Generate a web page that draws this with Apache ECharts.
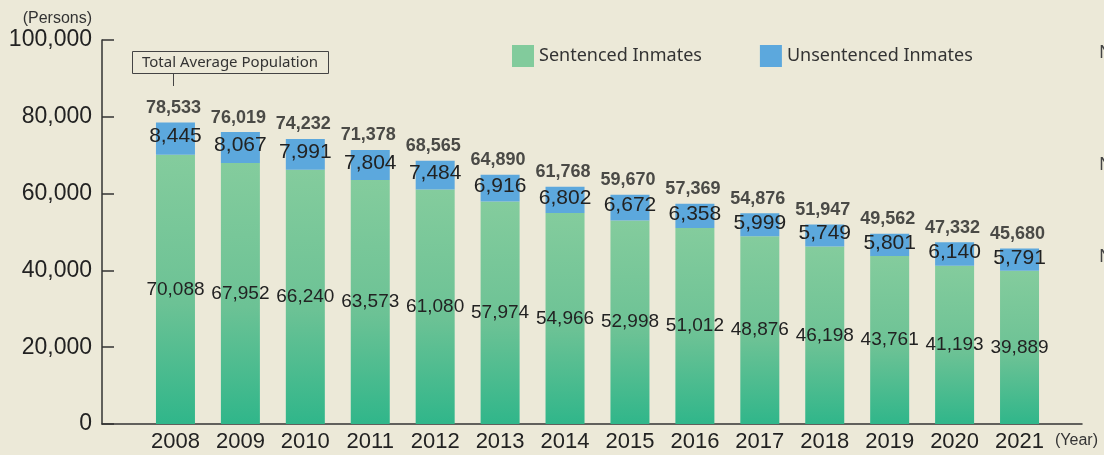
<!DOCTYPE html>
<html>
<head>
<meta charset="utf-8">
<script src="https://cdn.jsdelivr.net/npm/echarts@6/dist/echarts.min.js"></script>
<style>
  html, body { margin: 0; padding: 0; background: #ECE9D8; }
  #chart { width: 1104px; height: 455px; }
</style>
</head>
<body>
<div id="chart"></div>
<script>
// data
const years = ['2008', '2009', '2010', '2011', '2012', '2013', '2014', '2015', '2016', '2017', '2018', '2019', '2020', '2021'];
const sentenced = [70088, 67952, 66240, 63573, 61080, 57974, 54966, 52998, 51012, 48876, 46198, 43761, 41193, 39889];
const unsentenced = [8445, 8067, 7991, 7804, 7484, 6916, 6802, 6672, 6358, 5999, 5749, 5801, 6140, 5791];
const totals = [78533, 76019, 74232, 71378, 68565, 64890, 61768, 59670, 57369, 54876, 51947, 49562, 47332, 45680];
const seriesNames = ['Sentenced Inmates', 'Unsentenced Inmates'];

const numFont = 'Liberation Sans';
const txtFont = 'Noto Sans';
const fmt = v => Number(v).toLocaleString('en-US');

const chart = echarts.init(document.getElementById('chart'));

chart.setOption({
  backgroundColor: '#ECE9D8',
  animation: false,
  legend: {
    left: 512,
    top: 45,
    padding: 0,
    itemWidth: 22,
    itemHeight: 22,
    itemGap: 58,
    icon: 'rect',
    textStyle: { fontFamily: txtFont, fontSize: 18, color: '#333' },
    data: [
      { name: seriesNames[0], itemStyle: { color: '#82CB9C' } },
      { name: seriesNames[1], itemStyle: { color: '#5CA8DD' } }
    ]
  },
  grid: [
    { left: 143, right: 52, top: 40, bottom: 31 },
    // only used to draw the long baseline
    { left: 102, right: 22, top: 40, bottom: 31 }
  ],
  xAxis: [
    {
      type: 'category',
      gridIndex: 0,
      data: years,
      axisLine: { show: false },
      axisTick: { show: false },
      axisLabel: { fontFamily: numFont, fontSize: 22, color: '#222', margin: 7 }
    },
    {
      type: 'value',
      gridIndex: 1,
      axisLine: { show: true, onZero: false, lineStyle: { color: '#333', width: 1.5 } },
      axisTick: { show: false },
      axisLabel: { show: false },
      splitLine: { show: false }
    }
  ],
  yAxis: [
    {
      type: 'value',
      gridIndex: 0,
      offset: 41,
      min: 0,
      max: 100000,
      interval: 20000,
      name: '(Persons)',
      nameLocation: 'end',
      nameGap: 13,
      nameTextStyle: { fontFamily: numFont, fontSize: 16, color: '#333', align: 'right', padding: [0, 10, 0, 0] },
      axisLine: { show: true, lineStyle: { color: '#333', width: 1.5 } },
      axisTick: { show: true, inside: true, length: 12, lineStyle: { color: '#333', width: 1.5 } },
      axisLabel: { fontFamily: numFont, fontSize: 23, color: '#222', margin: 10, formatter: fmt },
      splitLine: { show: false }
    },
    { type: 'value', gridIndex: 1, show: false }
  ],
  series: [
    {
      name: seriesNames[0],
      type: 'bar',
      stack: 'total',
      barWidth: 39,
      data: sentenced,
      itemStyle: {
        color: new echarts.graphic.LinearGradient(0, 0, 0, 1, [
          { offset: 0, color: '#84CC9D' },
          { offset: 0.55, color: '#6CC295' },
          { offset: 1, color: '#30B68A' }
        ])
      },
      label: {
        show: true,
        position: 'inside',
        fontFamily: numFont,
        fontSize: 19,
        color: '#222',
        formatter: p => fmt(p.value)
      }
    },
    {
      name: seriesNames[1],
      type: 'bar',
      stack: 'total',
      barWidth: 39,
      data: unsentenced,
      itemStyle: { color: '#5CA8DD' },
      label: {
        show: true,
        position: 'inside',
        offset: [0, -2],
        fontFamily: numFont,
        fontSize: 21,
        color: '#222',
        formatter: p => fmt(p.value)
      }
    },
    {
      name: 'Total',
      type: 'scatter',
      data: totals,
      symbolSize: 1,
      itemStyle: { color: 'rgba(0,0,0,0)' },
      silent: true,
      z: 5,
      label: {
        show: true,
        position: 'top',
        distance: 5,
        offset: [-2, 0],
        fontFamily: numFont,
        fontSize: 18,
        fontWeight: 'bold',
        color: '#222',
        formatter: p => fmt(p.value)
      }
    }
  ],
  graphic: [
    {
      type: 'rect',
      shape: { x: 132.5, y: 51.5, width: 196, height: 22 },
      style: { fill: 'none', stroke: '#444', lineWidth: 1 }
    },
    {
      type: 'text',
      x: 230, y: 62.5,
      style: { text: 'Total Average Population', fontFamily: txtFont, fontSize: 15, fill: '#333', align: 'center', verticalAlign: 'middle' }
    },
    {
      type: 'line',
      shape: { x1: 173.5, y1: 73.5, x2: 173.5, y2: 86 },
      style: { stroke: '#444', lineWidth: 1 }
    },
    {
      type: 'text',
      x: 1055, y: 441,
      style: { text: '(Year)', fontFamily: numFont, fontSize: 16, fill: '#333', verticalAlign: 'middle' }
    },
    { type: 'text', x: 1099, y: 53, style: { text: 'N', fontFamily: txtFont, fontSize: 18, fill: '#444', verticalAlign: 'middle' } },
    { type: 'text', x: 1099, y: 165, style: { text: 'N', fontFamily: txtFont, fontSize: 18, fill: '#444', verticalAlign: 'middle' } },
    { type: 'text', x: 1099, y: 257, style: { text: 'N', fontFamily: txtFont, fontSize: 18, fill: '#444', verticalAlign: 'middle' } }
  ]
});
</script>
</body>
</html>
